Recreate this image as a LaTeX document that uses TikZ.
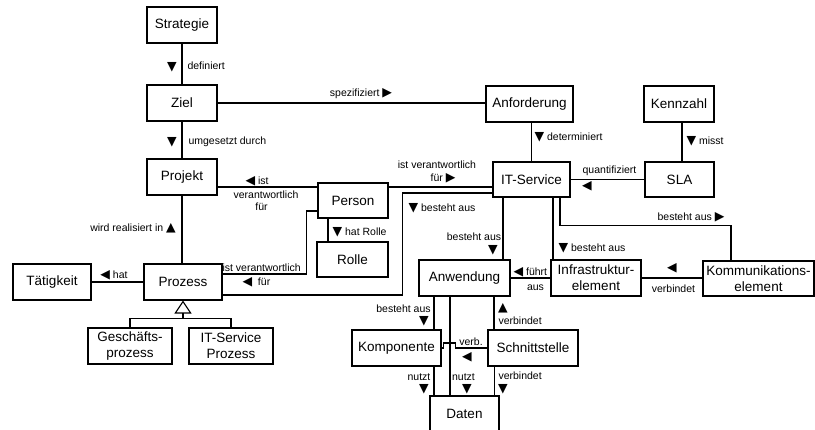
\documentclass[tikz,border=0pt]{standalone}
\usepackage{fontspec}
\setmainfont{Liberation Sans}
\newfontfamily\symfont{DejaVu Sans}
\usetikzlibrary{arrows.meta}
\newcommand{\dn}{{\fontsize{12.5}{12.5}\symfont ▼}}
\newcommand{\up}{{\fontsize{12.5}{12.5}\symfont ▲}}
\newcommand{\lf}{{\fontsize{12.5}{12.5}\symfont ◀}}
\newcommand{\rt}{{\fontsize{12.5}{12.5}\symfont ▶}}
\begin{document}
\begin{tikzpicture}[x=1pt,y=-1pt,line width=1.1pt]
      \useasboundingbox (0,0) rectangle (815,430);

      \begin{scope}[every node/.style={draw,fill=white,inner sep=1pt,minimum width=70pt,minimum height=36pt,align=center,font=\fontsize{13.5}{16}\selectfont}]
        \node (strategie)  at (182,25)  {Strategie};
        \node (ziel)  at (182,103)  {Ziel};
        \node (projekt)  at (182,177)  {Projekt};
        \node[minimum width=78pt] (prozess)  at (183,282)  {Prozess};
        \node[minimum width=78pt] (taetigkeit)  at (52,282)  {Tätigkeit};
        \node[minimum width=84pt] (gprozess)  at (130,346)  {Geschäfts-\\prozess};
        \node[minimum width=84pt] (itsprozess)  at (231,346)  {IT-Service\\Prozess};
        \node[minimum height=35pt] (person)  at (353,200.5)  {Person};
        \node[minimum width=71pt,minimum height=35pt] (rolle)  at (352.5,259.5)  {Rolle};
        \node[minimum width=87pt] (anforderung)  at (529.5,104)  {Anforderung};
        \node (kennzahl)  at (679,104)  {Kennzahl};
        \node[minimum width=77pt,minimum height=35pt] (itservice)  at (531.5,179.5)  {IT-Service};
        \node[minimum width=69pt,minimum height=35pt] (sla)  at (679.5,179.5)  {SLA};
        \node[minimum width=91pt] (anwendung)  at (464.5,278)  {Anwendung};
        \node[minimum width=90pt] (infra)  at (596,278)  {Infrastruktur-\\element};
        \node[minimum width=111pt,minimum height=35pt] (komm)  at (758.5,278.5)  {Kommunikations-\\element};
        \node[minimum width=89pt] (komponente)  at (396.5,348)  {Komponente};
        \node[minimum width=90pt] (schnittstelle)  at (533,348)  {Schnittstelle};
        \node[minimum width=69pt] (daten)  at (464.5,414)  {Daten};
      \end{scope}

      \draw (strategie) -- (ziel);
      \draw (ziel) -- (projekt);
      \draw (projekt.south) -- (projekt.south |- prozess.north);
      \draw (ziel) -- (ziel -| anforderung.west);
      \draw ([xshift=2pt]anforderung.south) -- ([xshift=2pt]anforderung.south |- itservice.north);
      \draw ([xshift=3pt]kennzahl.south) -- ([xshift=3pt]kennzahl.south |- sla.north);
      \draw (sla) -- (sla -| itservice.east);
      \draw ([yshift=-10pt]projekt.east) -- ([yshift=-10pt]projekt.east -| person.west);
      \draw ([yshift=-10pt]projekt.east -| person.east) -- ([yshift=-10pt]projekt.east -| itservice.west);
      \draw ([xshift=-25pt]person.south) -- ([xshift=-25pt]person.south |- rolle.north);
      \draw ([yshift=8pt]prozess.east) -| ([xshift=-11pt,yshift=-10.5pt]person.west) -- ([yshift=-10.5pt]person.west);
      \draw ([yshift=-13pt]prozess.east) -| ([xshift=-90pt,yshift=-13.5pt]itservice.west) -- ([yshift=-13.5pt]itservice.west);
      \draw (taetigkeit) -- (prozess);
      \coordinate (fork) at ([yshift=-18pt]prozess.south);
      \draw (gprozess.north) |- (fork) -| (itsprozess.north);
      \draw[-{Triangle[open,length=13pt,width=17pt,line width=1.1pt]}] (fork) -- (prozess.south);
      \draw ([xshift=-28.5pt]itservice.south) -- ([xshift=-28.5pt]itservice.south |- anwendung.north);
      \draw ([xshift=21.5pt]itservice.south) -- ([xshift=21.5pt]itservice.south |- infra.north);
      \draw ([xshift=28.5pt]itservice.south) -- ++(0,28) -| ([xshift=-27.5pt]komm.north);
      \draw (anwendung) -- (infra);
      \draw (infra) -- (infra -| komm.west);
      \draw ([xshift=-30.5pt]anwendung.south) -- ([xshift=-30.5pt]anwendung.south |- komponente.north);
      \draw ([xshift=-14.5pt]anwendung.south) -- ([xshift=-14.5pt]anwendung.south |- daten.north);
      \draw ([xshift=29.5pt]anwendung.south) -- ([xshift=29.5pt]anwendung.south |- schnittstelle.north);
      \draw (komponente.east) -- ++(2,0) -- ++(0,-5) -- ++(12,0) -- ++(0,5) -- (schnittstelle.west);
      \draw ([xshift=37.5pt]komponente.south) -- ([xshift=37.5pt]komponente.south |- daten.north);
      \draw ([xshift=-38.5pt]schnittstelle.south) -- ([xshift=-38.5pt]schnittstelle.south |- daten.north);

      \begin{scope}[every node/.style={inner sep=0pt,font=\fontsize{10.5}{12}\selectfont}]
        \node (tdef) at (172,67) {\dn};
        \node[anchor=west] (ldef) at (187,66) {definiert};
        \node (tums) at (172,142) {\dn};
        \node[anchor=west] (lums) at (188,142) {umgesetzt durch};
        \node (lspez) at (361,94) {spezifiziert \rt};
        \node[anchor=west] (lprj1) at (245,181) {\lf\ ist};
        \node (lprj2) at (266,195) {verantwortlich};
        \node (lprj3) at (261.5,207) {für};
        \node (lreal) at (133,228) {wird realisiert in \up};
        \node (lhat) at (114,275) {\lf\ hat};
        \node[anchor=west] (lpv1) at (222,268) {ist verantwortlich};
        \node[anchor=west] (lpv2) at (242,282) {\lf\ \ für};
        \node[anchor=west] (lrolle) at (332,232) {\dn\ hat Rolle};
        \node (lits1) at (437,165) {ist verantwortlich};
        \node (lits2) at (443,178) {für \rt};
        \node[anchor=west] (lbest1) at (408,208) {\dn\ besteht aus};
        \node[anchor=west] (ldet) at (534,137) {\dn\ determiniert};
        \node[anchor=west] (lmisst) at (686,141) {\dn\ misst};
        \node (lquant) at (609.5,171) {quantifiziert};
        \node (tquant) at (587,186) {\lf};
        \node (lbest2) at (691,217) {besteht aus \rt};
        \node (lbest3) at (474,237) {besteht aus};
        \node (tbest3) at (493,250) {\dn};
        \node[anchor=west] (lbest4) at (558,248) {\dn\ besteht aus};
        \node[anchor=west] (lfuehrt) at (513,272) {\lf\ führt};
        \node (laus) at (535.5,288) {aus};
        \node (tverb1) at (672,268) {\lf};
        \node (lverb1) at (673.5,289) {verbindet};
        \node (lbest5) at (403.5,309) {besteht aus};
        \node (tbest5) at (424,321) {\dn};
        \node (tverb2) at (503,308) {\up};
        \node[anchor=west] (lverb2) at (498,321) {verbindet};
        \node (lverb3) at (471,342) {verb.};
        \node (tverb3) at (467,357) {\lf};
        \node (lnutzt1) at (419,377) {nutzt};
        \node (tnutzt1) at (424,389.5) {\dn};
        \node (lnutzt2) at (463.5,377) {nutzt};
        \node (tnutzt2) at (467,389.5) {\dn};
        \node[anchor=west] (lverb4) at (498,376) {verbindet};
        \node (tverb4) at (503,389) {\dn};
      \end{scope}

    \end{tikzpicture}
\end{document}
